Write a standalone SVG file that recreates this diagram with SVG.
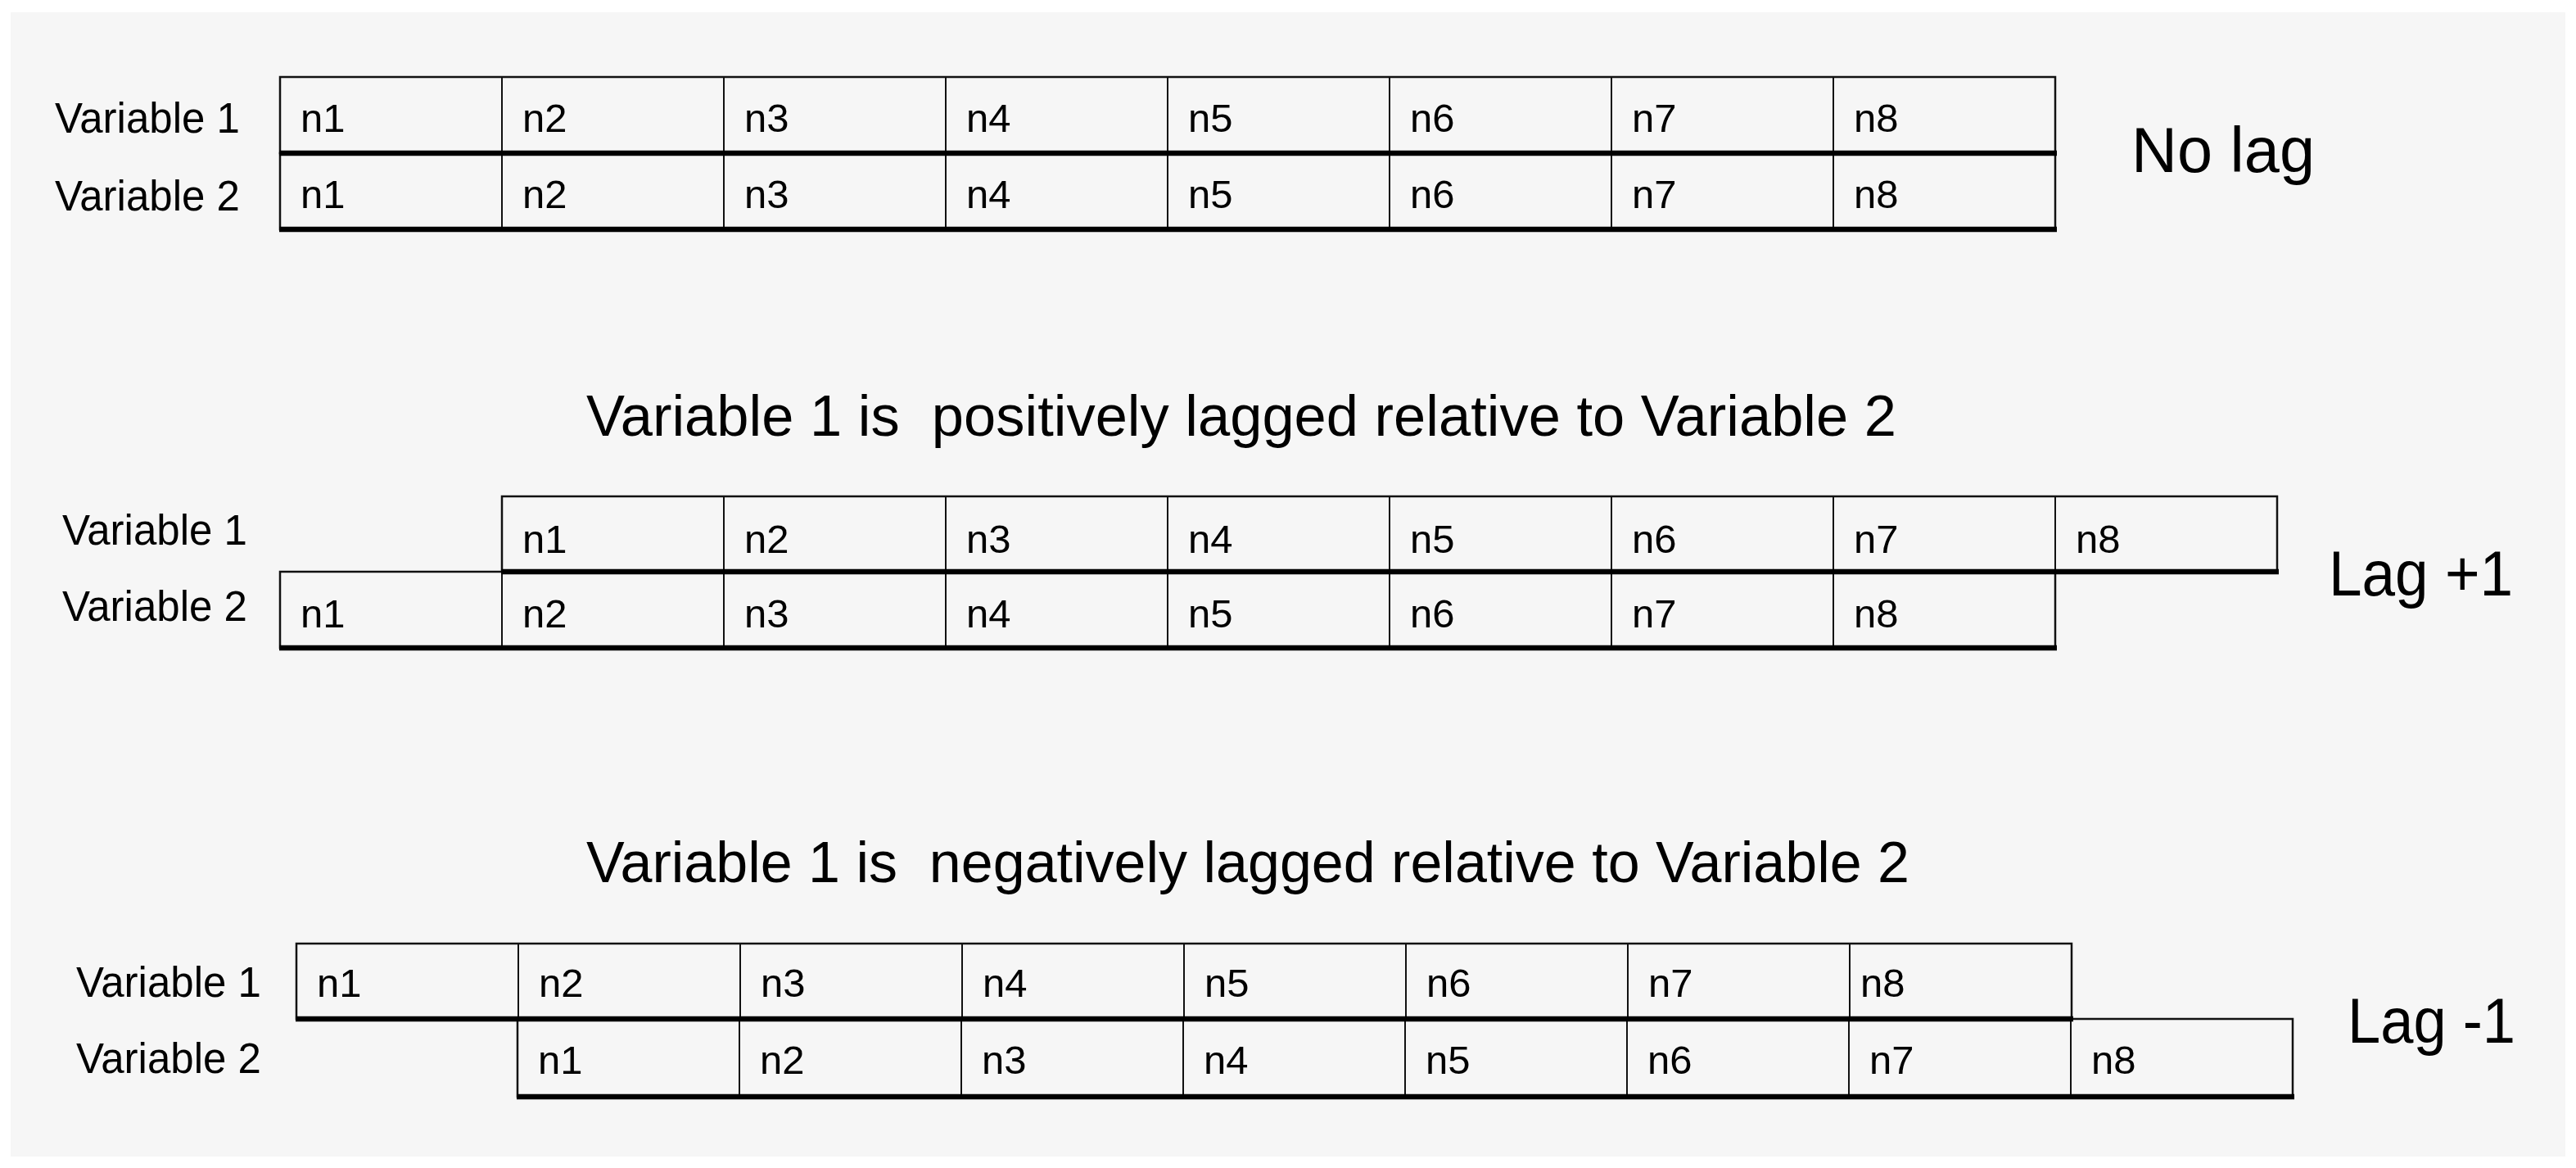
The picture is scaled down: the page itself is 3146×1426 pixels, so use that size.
<svg xmlns="http://www.w3.org/2000/svg" width="3146" height="1426" viewBox="0 0 3146 1426">
<style>
text{font-family:"Liberation Sans",Arial,sans-serif;fill:#000;white-space:pre}
.cell{fill:none;stroke:#111;stroke-width:2.5}
.div{stroke:#111;stroke-width:2}
.thick{stroke:#000;stroke-width:6.5}
.v{font-size:49px}
.lab{font-size:51px}
.title{font-size:70px}
.big{font-size:78px}
</style>
<rect x="0" y="0" width="3146" height="1426" fill="#ffffff"/>
<rect x="13" y="15" width="3120" height="1397" fill="#f6f6f6"/>

<g id="labels">
<text class="lab" x="67" y="162">Variable 1</text>
<text class="lab" x="67" y="257">Variable 2</text>
<text class="lab" x="76" y="665">Variable 1</text>
<text class="lab" x="76" y="758">Variable 2</text>
<text class="lab" x="93" y="1217">Variable 1</text>
<text class="lab" x="93" y="1310">Variable 2</text>
</g>

<g id="titles">
<text class="big" x="2603" y="210" textLength="224" lengthAdjust="spacingAndGlyphs">No lag</text>
<text class="title" x="716" y="532" xml:space="preserve" textLength="1600" lengthAdjust="spacingAndGlyphs">Variable 1 is  positively lagged relative to Variable 2</text>
<text class="big" x="2844" y="727" textLength="225" lengthAdjust="spacingAndGlyphs">Lag +1</text>
<text class="title" x="716" y="1077" xml:space="preserve" textLength="1616" lengthAdjust="spacingAndGlyphs">Variable 1 is  negatively lagged relative to Variable 2</text>
<text class="big" x="2867" y="1273" textLength="205" lengthAdjust="spacingAndGlyphs">Lag -1</text>
</g>

<g id="s1v1">
<rect class="cell" x="342" y="94" width="2168" height="93"/>
<path class="div" d="M613 94V187M884 94V187M1155 94V187M1426 94V187M1697 94V187M1968 94V187M2239 94V187"/>
<text class="v" x="367" y="161">n1</text><text class="v" x="638" y="161">n2</text><text class="v" x="909" y="161">n3</text><text class="v" x="1180" y="161">n4</text><text class="v" x="1451" y="161">n5</text><text class="v" x="1722" y="161">n6</text><text class="v" x="1993" y="161">n7</text><text class="v" x="2264" y="161">n8</text>
</g>

<g id="s1v2">
<rect class="cell" x="342" y="187" width="2168" height="93"/>
<path class="div" d="M613 187V280M884 187V280M1155 187V280M1426 187V280M1697 187V280M1968 187V280M2239 187V280"/>
<text class="v" x="367" y="254">n1</text><text class="v" x="638" y="254">n2</text><text class="v" x="909" y="254">n3</text><text class="v" x="1180" y="254">n4</text><text class="v" x="1451" y="254">n5</text><text class="v" x="1722" y="254">n6</text><text class="v" x="1993" y="254">n7</text><text class="v" x="2264" y="254">n8</text>
</g>

<g id="s2v1">
<rect class="cell" x="613" y="606" width="2168" height="92"/>
<path class="div" d="M884 606V698M1155 606V698M1426 606V698M1697 606V698M1968 606V698M2239 606V698M2510 606V698"/>
<text class="v" x="638" y="675">n1</text><text class="v" x="909" y="675">n2</text><text class="v" x="1180" y="675">n3</text><text class="v" x="1451" y="675">n4</text><text class="v" x="1722" y="675">n5</text><text class="v" x="1993" y="675">n6</text><text class="v" x="2264" y="675">n7</text><text class="v" x="2535" y="675">n8</text>
</g>

<g id="s2v2">
<rect class="cell" x="342" y="698" width="2168" height="93"/>
<path class="div" d="M613 698V791M884 698V791M1155 698V791M1426 698V791M1697 698V791M1968 698V791M2239 698V791"/>
<text class="v" x="367" y="766">n1</text><text class="v" x="638" y="766">n2</text><text class="v" x="909" y="766">n3</text><text class="v" x="1180" y="766">n4</text><text class="v" x="1451" y="766">n5</text><text class="v" x="1722" y="766">n6</text><text class="v" x="1993" y="766">n7</text><text class="v" x="2264" y="766">n8</text>
</g>

<g id="s3v1">
<rect class="cell" x="362" y="1152" width="2168" height="92"/>
<path class="div" d="M633 1152V1244M904 1152V1244M1175 1152V1244M1446 1152V1244M1717 1152V1244M1988 1152V1244M2259 1152V1244"/>
<text class="v" x="387" y="1217">n1</text><text class="v" x="658" y="1217">n2</text><text class="v" x="929" y="1217">n3</text><text class="v" x="1200" y="1217">n4</text><text class="v" x="1471" y="1217">n5</text><text class="v" x="1742" y="1217">n6</text><text class="v" x="2013" y="1217">n7</text><text class="v" x="2272" y="1217">n8</text>
</g>

<g id="s3v2">
<rect class="cell" x="632" y="1244" width="2168" height="95"/>
<path class="div" d="M903 1244V1339M1174 1244V1339M1445 1244V1339M1716 1244V1339M1987 1244V1339M2258 1244V1339M2529 1244V1339"/>
<text class="v" x="657" y="1311">n1</text><text class="v" x="928" y="1311">n2</text><text class="v" x="1199" y="1311">n3</text><text class="v" x="1470" y="1311">n4</text><text class="v" x="1741" y="1311">n5</text><text class="v" x="2012" y="1311">n6</text><text class="v" x="2283" y="1311">n7</text><text class="v" x="2554" y="1311">n8</text>
</g>

<g id="row-bottoms">
<path class="thick" d="M341 187H2512M341 280H2512"/>
<path class="thick" d="M612 698H2783M341 791H2512"/>
<path class="thick" d="M361 1244H2532M631 1339H2802"/>
</g>
</svg>
